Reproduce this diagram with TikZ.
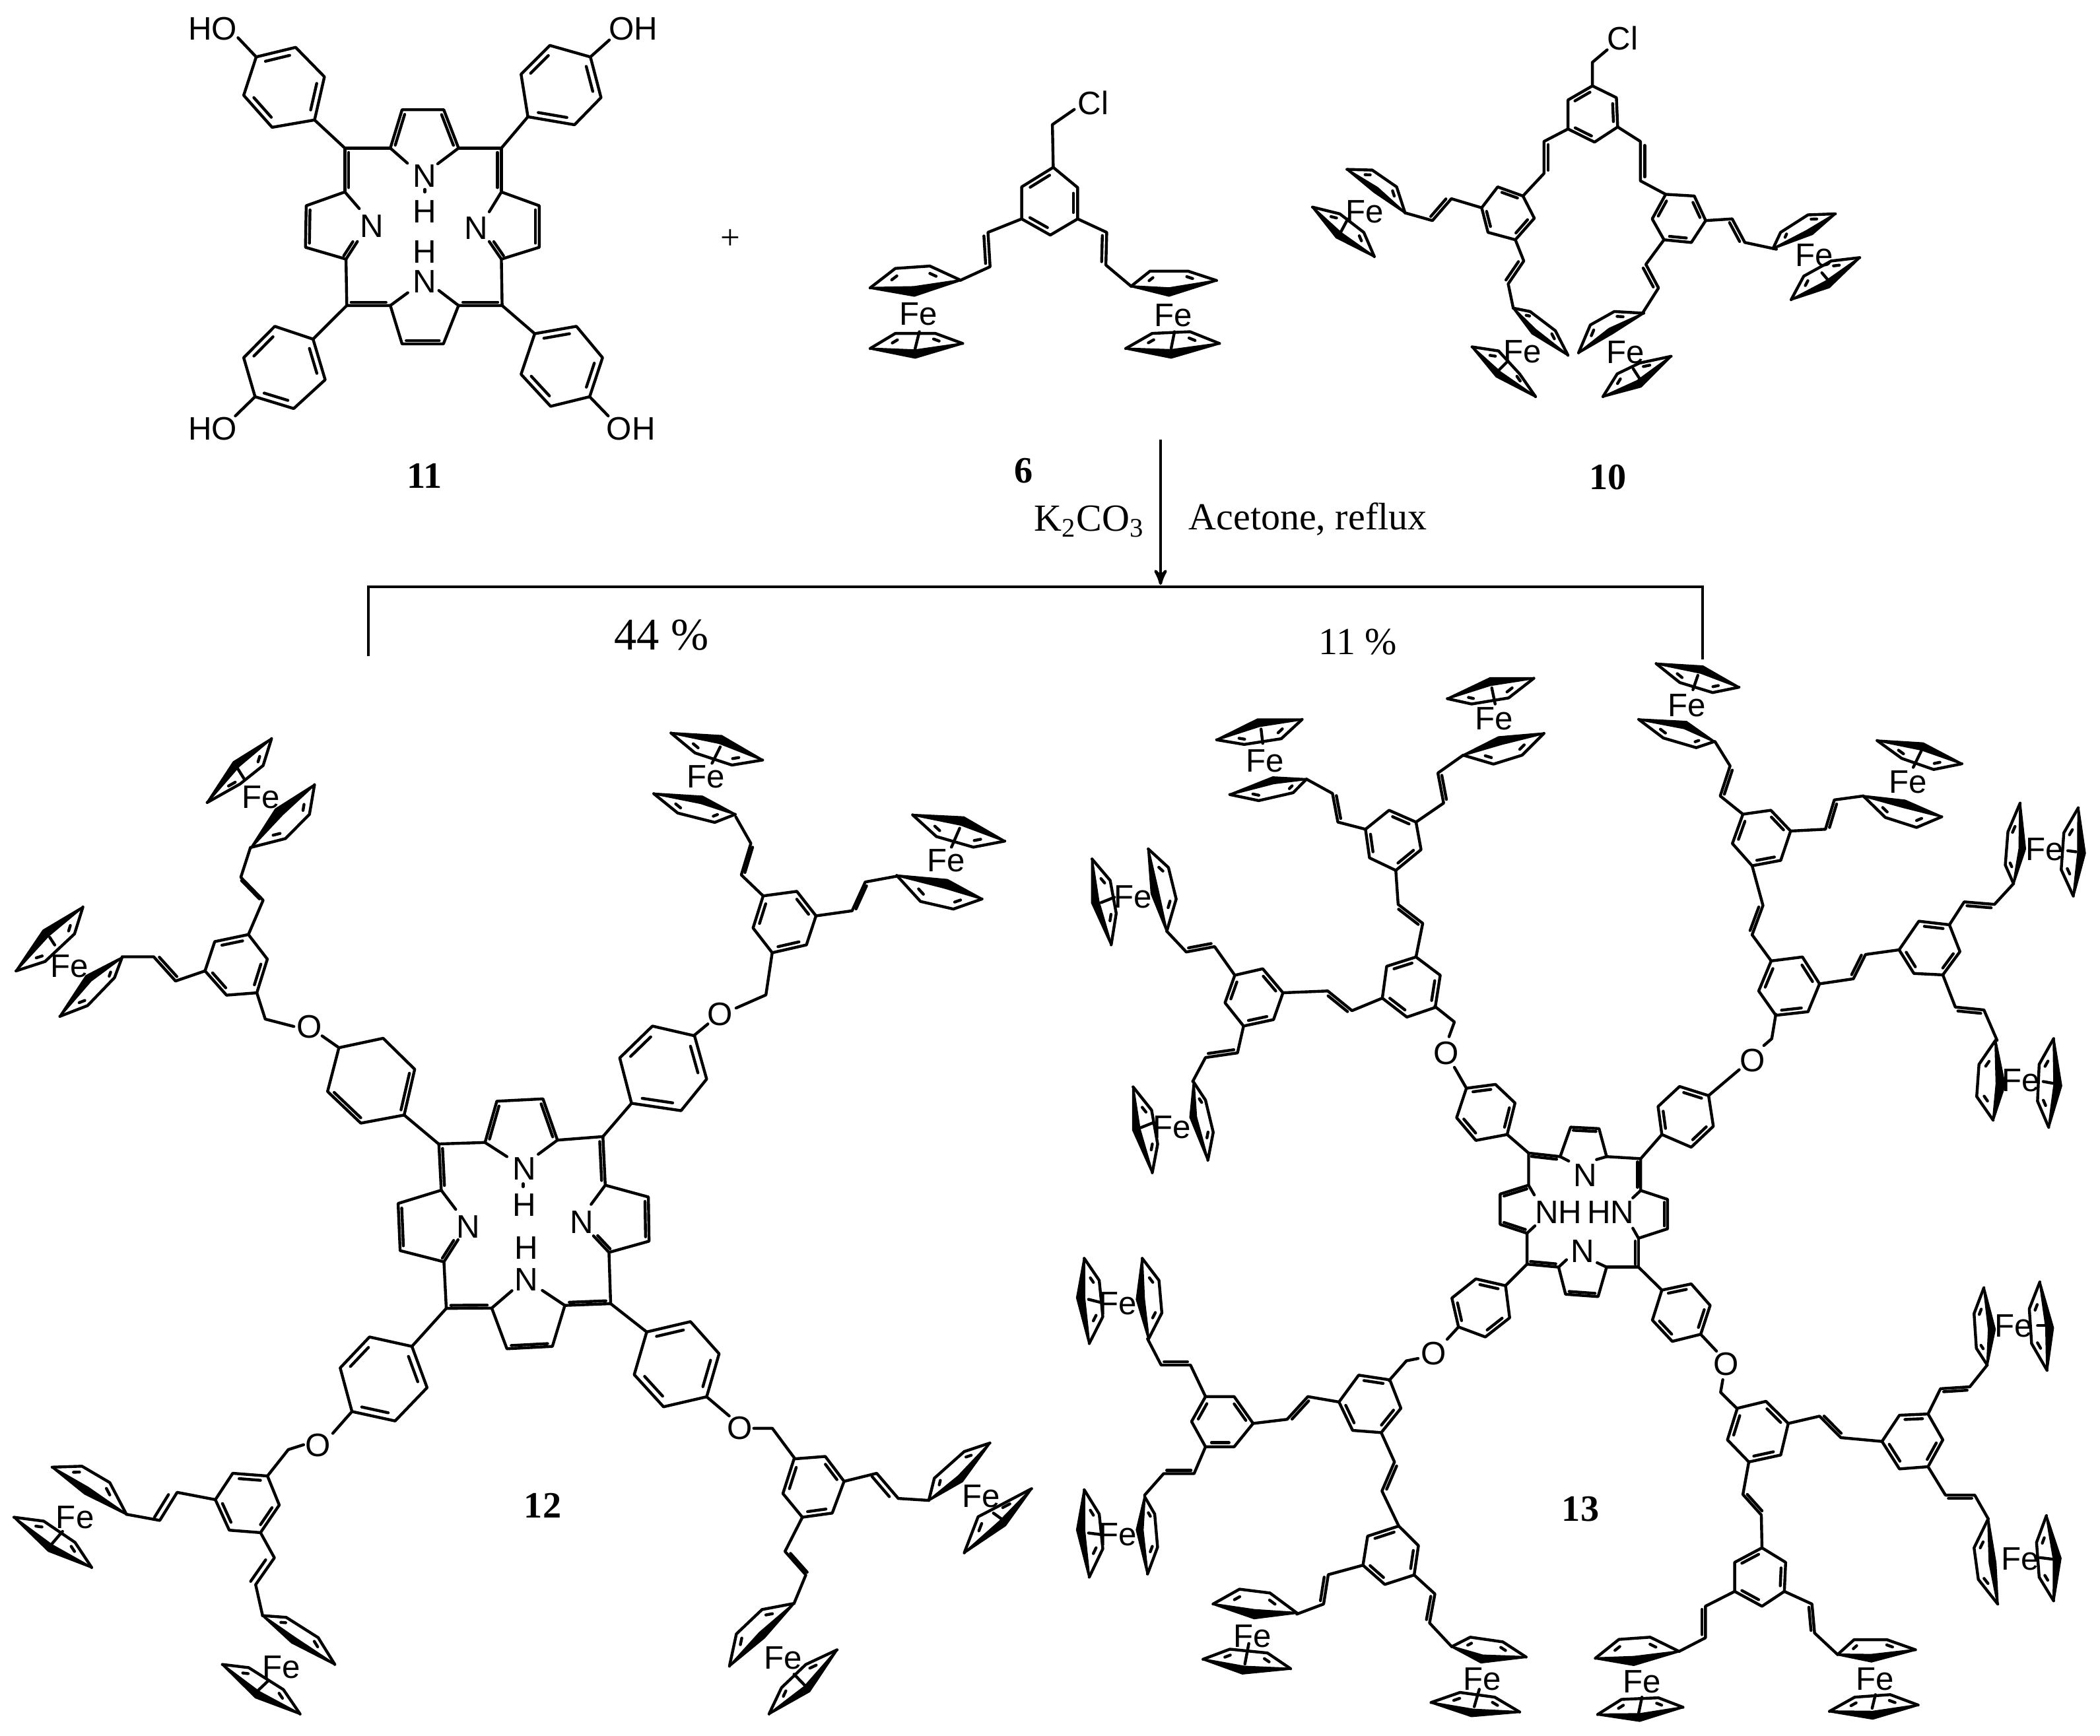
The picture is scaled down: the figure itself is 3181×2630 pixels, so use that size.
\documentclass[tikz,border=0pt]{standalone}
\usepackage{fontspec}
\setmainfont{Liberation Serif}
\newfontfamily\chemfont{Liberation Sans}
\usetikzlibrary{calc,arrows}

\newcounter{atomno}
\tikzset{
  bond/.style={line width=1.25pt,line cap=round,line join=round},
  atom/.style={font=\chemfont\fontsize{14}{14}\selectfont,inner sep=0pt,text height=10pt,text depth=0pt},
  cmpd/.style={font=\bfseries\fontsize{16}{16}\selectfont,inner sep=0pt},
  cond/.style={font=\fontsize{16.5}{17}\selectfont,inner sep=0pt},
  zone/.style n args={4}{shift={(#1,#2)},xscale=#3/1568,yscale=#4/1568}
}
\newcommand{\atomat}[2]{\stepcounter{atomno}\node[atom] (atom\theatomno) at (#1) {#2};}
% inner line of a double bond, #3 = 1 on the left of #1->#2, -1 on the right
\newcommand{\dbl}[3]{\draw[bond] ($(#1)!.1!(#2)!#3*2.9pt!90:(#2)$) -- ($(#2)!.1!(#1)!#3*2.9pt!-90:(#1)$);}
\newcommand{\vinyl}[5]{\draw[bond] (#1) -- (#2) -- (#3) -- (#4); \dbl{#2}{#3}{#5}}
% benzene ring, double bonds on 1-2, 3-4, 5-6
\def\benz(#1)(#2)(#3)(#4)(#5)(#6){
  \coordinate (rc) at ($(#1)!.5!(#4)$);
  \draw[bond] (#1) -- (#2) -- (#3) -- (#4) -- (#5) -- (#6) -- cycle;
  \draw[bond] ($($(#1)!.13!(#2)$)!.17!(rc)$) -- ($($(#2)!.13!(#1)$)!.17!(rc)$);
  \draw[bond] ($($(#3)!.13!(#4)$)!.17!(rc)$) -- ($($(#4)!.13!(#3)$)!.17!(rc)$);
  \draw[bond] ($($(#5)!.13!(#6)$)!.17!(rc)$) -- ($($(#6)!.13!(#5)$)!.17!(rc)$);
}
% one Cp ring: tip, back, back, tip, front
\def\cp(#1)(#2)(#3)(#4)(#5){
  \coordinate (cm) at ($(#2)!.5!(#3)$);
  \coordinate (cc) at ($(#5)!.5!(cm)$);
  \draw[bond] (#1) -- (#2) -- (#3) -- (#4);
  \draw[bond] ($($(#1)!.45!(#2)$)!.32!(cc)$) -- ($($(#1)!.75!(#2)$)!.32!(cc)$);
  \draw[bond] ($($(#3)!.25!(#4)$)!.32!(cc)$) -- ($($(#3)!.55!(#4)$)!.32!(cc)$);
  \filldraw[line width=.9pt,line join=miter,miter limit=4] (#1) -- (#5) -- (#4) -- ($(#5)!.3!(cm)$) -- cycle;
}

\begin{document}
\begin{tikzpicture}[x=.01cm,y=-.01cm]
\useasboundingbox (0,0) rectangle (3181,2630);

% reaction arrow and bracket
\coordinate (arrowtop) at (1758,666);
\coordinate (arrowend) at (1758,886);
\coordinate (brleft) at (558,994);
\coordinate (brcornerl) at (558,889);
\coordinate (brcornerr) at (2579,889);
\coordinate (brright) at (2579,999);
\draw[->,>=stealth',line width=1.25pt] (arrowtop) -- (arrowend);
\draw[line width=1pt] (brleft) -- (brcornerl) -- (brcornerr) -- (brright);
\node[cond] (base) at (1650,790) {K\textsubscript{2}CO\textsubscript{3}};
\node[cond] (solvent) at (1981,787) {Acetone, reflux};
\node[cond,font=\fontsize{19.5}{20}\selectfont] (yieldb) at (1002,962) {44 \%};
\node[cond] (yieldc) at (2057,973) {11 \%};
\node[cmpd] (lab12) at (822,2281) {12};
\node[cmpd] (lab13) at (2394,2286) {13};

% porphyrin 11
\begin{scope}[zone={240}{0}{900}{760}]
\benz(258,178)(362,148)(438,240)(412,375)(300,398)(225,298)
\benz(1140,178)(1168,305)(1098,390)(975,365)(957,232)(1033,142)
\benz(408,1060)(440,1187)(357,1277)(255,1240)(225,1118)(307,1020)
\benz(993,1043)(1103,1020)(1172,1118)(1138,1240)(1035,1270)(957,1170)
\draw[bond] (258,178) -- (210,118);
\draw[bond] (412,375) -- (492,463);
\draw[bond] (1140,178) -- (1190,125);
\draw[bond] (975,365) -- (905,463);
\draw[bond] (497,955) -- (408,1060);
\draw[bond] (255,1240) -- (203,1300);
\draw[bond] (907,955) -- (993,1043);
\draw[bond] (1138,1240) -- (1187,1300);
\atomat{143,88}{HO}
\atomat{1253,88}{OH}
\atomat{143,1338}{HO}
\atomat{1247,1338}{OH}
\draw[bond] (657,510) -- (612,463) -- (643,343) -- (753,343) -- (792,463) -- (737,512);
\dbl{612,463}{643,343}{-1} \dbl{753,343}{792,463}{-1}
\draw[bond] (492,600) -- (492,463) -- (612,463);
\draw[bond] (792,463) -- (905,463) -- (905,600);
\dbl{492,463}{492,600}{1} \dbl{905,463}{905,600}{-1}
\draw[bond] (530,652) -- (492,600) -- (390,643) -- (388,773) -- (495,810) -- (525,755);
\dbl{390,643}{388,773}{1} \dbl{495,810}{525,755}{1}
\draw[bond] (873,662) -- (905,600) -- (1005,643) -- (1005,773) -- (905,810) -- (873,755);
\dbl{1005,643}{1005,773}{-1} \dbl{905,810}{873,755}{-1}
\draw[bond] (495,810) -- (497,955) -- (612,955);
\draw[bond] (905,810) -- (907,955) -- (792,955);
\draw[bond] (658,915) -- (612,955) -- (643,1075) -- (752,1075) -- (792,955) -- (740,908);
\dbl{497,955}{612,955}{1} \dbl{792,955}{907,955}{1} \dbl{643,1075}{752,1075}{1}
\atomat{703,548}{N}
\atomat{703,660}{H}
\atomat{703,786}{H}
\atomat{703,878}{N}
\atomat{563,705}{N}
\atomat{838,712}{N}
\draw[bond] (703,592) -- (703,600);
\node[cmpd] (lab11) at (703,1487) {11};
\node[cond,font=\fontsize{15}{15}\selectfont] (plus) at (1510,748) {+};
\end{scope}

% chloride 6
\begin{scope}[zone={1200}{0}{1000}{800}]
\atomat{715,305}{Cl}
\draw[bond] (670,325) -- (618,370) -- (620,497);
\benz(620,497)(545,555)(545,650)(613,698)(678,650)(678,557)
\vinyl{545,650}{465,690}{470,792}{400,832}{-1}
\vinyl{678,650}{747,690}{745,787}{805,850}{-1}
\cp(185,855)(245,797)(327,790)(400,832)(290,878)
\cp(185,1035)(245,990)(340,990)(405,1020)(292,1062)
\draw[bond] (292,1035) -- (302,985);
\atomat{300,930}{Fe}
\cp(1008,833)(940,805)(850,805)(805,850)(895,878)
\cp(792,1035)(855,990)(945,985)(1015,1020)(900,1062)
\draw[bond] (900,1035) -- (908,985);
\atomat{905,935}{Fe}
\node[cmpd] (lab6) at (550,1397) {6};
\end{scope}

% chloride 10
\begin{scope}[zone={1900}{0}{1000}{800}]
\atomat{875,113}{Cl}
\draw[bond] (838,148) -- (803,185) -- (803,255);
\benz(803,255)(745,297)(745,383)(808,422)(863,377)(860,290)
\vinyl{745,383}{688,420}{688,515}{638,582}{1}
\vinyl{863,377}{917,420}{917,537}{977,577}{1}
\benz(578,555)(638,582)(665,648)(620,712)(555,690)(540,617)
\vinyl{540,617}{468,590}{423,655}{358,632}{-1}
\vinyl{620,712}{640,775}{603,843}{615,915}{-1}
\benz(1045,582)(1072,655)(1038,720)(973,712)(945,650)(977,577)
\vinyl{1072,655}{1135,650}{1165,720}{1240,740}{-1}
\vinyl{973,712}{930,785}{960,855}{922,930}{-1}
\cp(220,503)(280,505)(338,555)(358,632)(285,570)
\cp(138,615)(203,635)(260,690)(285,762)(195,705)
\draw[bond] (205,690) -- (222,650);
\atomat{262,627}{Fe}
\cp(615,915)(655,925)(715,982)(745,1055)(660,990)
\cp(517,1030)(580,1042)(630,1110)(668,1178)(575,1118)
\draw[bond] (580,1100) -- (600,1075);
\atomat{637,1042}{Fe}
\cp(925,930)(855,925)(798,965)(770,1048)(850,990)
\cp(990,1058)(915,1078)(862,1110)(828,1178)(918,1148)
\draw[bond] (918,1130) -- (900,1095);
\atomat{882,1045}{Fe}
\cp(1232,738)(1250,690)(1315,638)(1380,635)(1325,695)
\cp(1275,890)(1305,820)(1370,775)(1438,765)(1365,853)
\draw[bond] (1365,835) -- (1348,810);
\atomat{1330,757}{Fe}
\node[cmpd] (lab10) at (840,1417) {10};
\end{scope}

% 12, upper left arm
\begin{scope}[zone={0}{1050}{1000}{800}]
\cp(645,135)(625,215)(570,270)(492,325)(555,205)
\draw[bond] (580,255) -- (565,225);
\cp(747,272)(735,360)(678,432)(597,458)(655,345)
\atomat{620,307}{Fe}
\draw[bond] (590,717) -- (625,615) -- (572,547) -- (595,458);
\dbl{625,615}{572,547}{.45}
\benz(510,738)(590,717)(635,790)(610,890)(538,897)(487,825)
\vinyl{487,825}{417,855}{365,783}{290,783}{-1}
\cp(290,785)(272,845)(208,928)(142,960)(205,840)
\cp(197,635)(177,715)(107,797)(38,825)(103,705)
\draw[bond] (130,748) -- (118,725);
\atomat{165,810}{Fe}
\draw[bond] (610,890) -- (630,968) -- (698,990);
\atomat{735,990}{O}
\draw[bond] (765,1018) -- (805,1053);
\draw[bond] (805,1053) -- (910,1025) -- (985,1117) -- (960,1253) -- (857,1277) -- (778,1183) -- cycle;
\dbl{985,1117}{960,1253}{-1} \dbl{857,1277}{778,1183}{-1}
\draw[bond] (960,1253) -- (1043,1340);
\end{scope}

% 12, porphyrin core
\begin{scope}[zone={500}{1550}{800}{700}]
\draw[bond] (525,453) -- (460,405) -- (495,265) -- (632,257) -- (675,397) -- (618,445);
\dbl{460,405}{495,265}{-1} \dbl{632,257}{675,397}{-1}
\draw[bond] (330,567) -- (323,410) -- (460,405);
\draw[bond] (675,397) -- (810,385) -- (817,550);
\dbl{323,410}{330,567}{1} \dbl{810,385}{817,550}{-1}
\draw[bond] (373,632) -- (330,567) -- (202,612) -- (208,772) -- (338,810) -- (380,735);
\dbl{202,612}{208,772}{1} \dbl{338,810}{380,735}{1}
\draw[bond] (775,615) -- (817,550) -- (945,590) -- (947,740) -- (828,778) -- (782,722);
\dbl{945,590}{947,740}{-1} \dbl{828,778}{782,722}{-1}
\draw[bond] (338,810) -- (345,968) -- (480,967);
\draw[bond] (828,778) -- (833,952) -- (697,958);
\draw[bond] (540,908) -- (480,967) -- (525,1105) -- (660,1097) -- (697,958) -- (630,907);
\dbl{345,968}{480,967}{1} \dbl{697,958}{833,952}{1} \dbl{525,1105}{660,1097}{1}
\atomat{577,492}{N}
\atomat{577,615}{H}
\atomat{582,762}{H}
\atomat{582,870}{N}
\atomat{410,690}{N}
\atomat{748,675}{N}
\draw[bond] (573,545) -- (573,555);
\draw[bond] (345,968) -- (243,1097);
\benz(243,1097)(288,1237)(193,1350)(65,1318)(30,1170)(117,1065)
\draw[bond] (65,1318) -- (8,1392);
\draw[bond] (833,952) -- (940,1048);
\benz(940,1048)(1070,1013)(1155,1122)(1118,1268)(990,1302)(903,1193)
\draw[bond] (1118,1268) -- (1185,1333);
\atomat{1217,1373}{O}
\draw[bond] (1258,1375) -- (1313,1375) -- (1380,1478);
\draw[bond] (810,385) -- (895,272);
\benz(895,272)(1042,297)(1118,190)(1082,43)(957,10)(860,118)
\end{scope}

% 12, upper right arm
\begin{scope}[zone={950}{1050}{650}{600}]
\draw[bond] (245,1355) -- (295,1310);
\atomat{340,1270}{O}
\draw[bond] (398,1247) -- (507,1195) -- (530,1028);
\benz(530,1028)(655,997)(690,882)(620,785)(497,803)(460,930)
\vinyl{497,803}{417,720}{452,595}{397,490}{-1}
\vinyl{690,882}{822,862}{870,748}{985,725}{-1}
\cp(97,398)(185,475)(320,512)(395,480)(275,410)
\cp(160,158)(248,237)(383,285)(495,265)(345,170)
\draw[bond] (340,213) -- (310,278);
\atomat{287,330}{Fe}
\cp(985,722)(1072,825)(1192,855)(1297,815)(1170,740)
\cp(1043,482)(1130,568)(1265,610)(1380,586)(1230,492)
\draw[bond] (1215,535) -- (1185,610);
\atomat{1165,660}{Fe}
\end{scope}

% 12, two lower arms
\begin{scope}[zone={0}{2050}{1650}{580}]
\atomat{458,375}{O}
\draw[bond] (437,375) -- (415,395) -- (385,503);
\benz(385,503)(335,492)(310,600)(330,725)(375,735)(402,622)
\vinyl{310,600}{255,570}{230,685}{182,660}{-1}
\vinyl{375,735}{395,838}{368,948}{378,1075}{-1}
\cp(75,467)(118,463)(158,530)(182,660)(122,575)
\cp(20,672)(63,688)(108,775)(132,878)(70,810)
\draw[bond] (72,790) -- (90,730);
\atomat{108,670}{Fe}
\cp(378,1075)(412,1082)(458,1165)(482,1275)(420,1185)
\cp(320,1275)(358,1288)(408,1378)(432,1478)(368,1410)
\draw[bond] (372,1380) -- (385,1345);
\atomat{405,1283}{Fe}
\benz(1188,423)(1215,525)(1198,655)(1155,672)(1127,575)(1143,433)
\vinyl{1215,525}{1262,492}{1293,595}{1337,603}{-1}
\draw[bond] (1155,672) -- (1130,812) -- (1160,908) -- (1143,1025);
\dbl{1130,812}{1160,908}{.5}
\cp(1337,603)(1345,512)(1388,403)(1425,368)(1385,525)
\cp(1388,818)(1408,670)(1435,630)(1485,555)(1447,705)
\draw[bond] (1447,690) -- (1430,655);
\atomat{1412,583}{Fe}
\cp(1143,1025)(1097,1050)(1060,1150)(1050,1282)(1100,1165)
\cp(1205,1215)(1160,1275)(1125,1370)(1107,1478)(1165,1385)
\draw[bond] (1160,1365) -- (1143,1315);
\atomat{1127,1245}{Fe}
\end{scope}

% 13, porphyrin core
\begin{scope}[zone={2050}{1500}{750}{700}]
\draw[bond] (555,662) -- (555,553) -- (655,565);
\dbl{555,553}{655,565}{-1}
\draw[bond] (682,580) -- (655,565) -- (688,465) -- (778,470) -- (802,565) -- (770,575);
\dbl{688,465}{778,470}{-1}
\draw[bond] (802,565) -- (910,572) -- (910,680);
\dbl{910,572}{910,680}{-1}
\draw[bond] (573,695) -- (555,662) -- (465,692) -- (465,795) -- (550,825) -- (575,800);
\dbl{465,692}{555,662}{-1} \dbl{465,795}{550,825}{1}
\draw[bond] (885,705) -- (910,680) -- (995,710) -- (995,810) -- (903,842) -- (885,808);
\dbl{995,710}{995,810}{-1}
\draw[bond] (550,825) -- (550,930) -- (650,940);
\draw[bond] (903,842) -- (903,940) -- (802,940);
\dbl{903,842}{903,940}{-1} \dbl{550,930}{650,940}{1}
\draw[bond] (675,915) -- (650,940) -- (672,1032) -- (775,1040) -- (802,940) -- (772,925);
\dbl{672,1032}{775,1040}{1}
\atomat{735,628}{N}
\atomat{727,885}{N}
\atomat{650,752}{NH}
\atomat{815,752}{HN}
\draw[bond] (487,490) -- (555,553);
\benz(358,333)(450,320)(512,383)(487,490)(388,510)(327,433)
\draw[bond] (358,333) -- (320,262);
\atomat{293,213}{O}
\draw[bond] (303,158) -- (320,108) -- (258,55);
\draw[bond] (910,572) -- (977,490);
\benz(965,395)(977,490)(1070,533)(1140,462)(1125,358)(1033,327)
\draw[bond] (1125,358) -- (1222,270);
\atomat{1265,238}{O}
\draw[bond] (1300,188) -- (1325,165) -- (1338,82);
\draw[bond] (550,930) -- (482,1003);
\benz(388,980)(482,1003)(495,1112)(418,1177)(333,1143)(312,1045)
\draw[bond] (333,1143) -- (297,1185);
\atomat{255,1232}{O}
\draw[bond] (205,1250) -- (168,1258) -- (113,1325);
\draw[bond] (903,940) -- (977,1018);
\benz(977,1018)(1070,997)(1130,1070)(1100,1168)(1010,1192)(947,1120)
\draw[bond] (1100,1168) -- (1150,1225);
\atomat{1180,1267}{O}
\draw[bond] (1170,1322) -- (1163,1365) -- (1215,1420);
\end{scope}

% 13, upper left arm
\begin{scope}[zone={1650}{950}{800}{850}]
\cp(417,468)(503,485)(605,463)(645,425)(545,420)
\cp(378,315)(460,328)(570,312)(632,258)(500,258)
\draw[bond] (510,285) -- (515,325);
\atomat{522,372}{Fe}
\cp(1110,358)(1200,383)(1285,358)(1350,297)(1215,308)
\cp(1063,200)(1135,215)(1245,198)(1320,143)(1190,143)
\draw[bond] (1195,170) -- (1205,215);
\atomat{1202,255}{Fe}
\vinyl{820,565}{738,545}{722,465}{645,425}{-1}
\benz(890,512)(970,545)(985,622)(910,680)(832,645)(820,565)
\vinyl{970,545}{1052,492}{1035,408}{1110,358}{-1}
\vinyl{910,680}{917,775}{990,828}{970,922}{-1}
\benz(883,948)(970,922)(1042,973)(1027,1063)(943,1090)(870,1037)
\vinyl{870,1037}{780,1072}{708,1017}{575,1022}{1}
\benz(515,955)(575,1022)(547,1097)(458,1115)(403,1050)(432,973)
\vinyl{432,973}{372,893}{288,908}{230,850}{-1}
\vinyl{458,1115}{440,1190}{345,1203}{307,1270}{-1}
\cp(175,620)(235,672)(258,760)(230,850)(185,745)
\cp(8,648)(62,708)(80,800)(65,888)(8,770)
\draw[bond] (35,770) -- (75,755);
\atomat{130,752}{Fe}
\cp(310,1272)(345,1322)(368,1412)(352,1490)(300,1370)
\cp(130,1285)(185,1350)(203,1445)(187,1525)(130,1405)
\draw[bond] (150,1400) -- (190,1385);
\atomat{245,1397}{Fe}
\end{scope}

% 13, upper right arm
\begin{scope}[zone={2400}{950}{781}{850}]
\cp(218,102)(290,155)(390,183)(470,168)(360,110)
\draw[bond] (345,135) -- (330,175);
\atomat{312,217}{Fe}
\cp(165,258)(240,310)(340,337)(395,320)(310,265)
\vinyl{482,523}{413,472}{443,388}{397,320}{-1}
\benz(450,605)(482,523)(567,512)(627,570)(597,652)(510,667)
\vinyl{627,570}{733,565}{760,483}{848,472}{-1}
\cp(848,472)(915,532)(1010,560)(1087,530)(975,485)
\cp(890,317)(965,367)(1062,398)(1148,382)(1030,325)
\draw[bond] (1025,345) -- (1000,392);
\atomat{985,432}{Fe}
\vinyl{510,667}{543,778}{510,860}{568,933}{-1}
\benz(530,1017)(568,933)(663,922)(715,997)(680,1075)(582,1085)
\vinyl{715,997}{818,983}{855,915}{957,902}{1}
\benz(1002,968)(957,902)(1017,822)(1110,832)(1142,907)(1090,972)
\vinyl{1110,832}{1155,768}{1247,775}{1305,717}{-1}
\vinyl{1090,972}{1128,1062}{1215,1070}{1255,1155}{-1}
\cp(1325,492)(1288,572)(1280,665)(1305,717)(1340,620)
\cp(1502,505)(1458,575)(1450,678)(1487,752)(1522,632)
\draw[bond] (1470,625) -- (1495,628);
\atomat{1400,620}{Fe}
\cp(1250,1155)(1200,1222)(1193,1312)(1243,1378)(1278,1280)
\cp(1427,1150)(1383,1222)(1378,1325)(1412,1398)(1450,1282)
\draw[bond] (1395,1270) -- (1425,1275);
\atomat{1327,1265}{Fe}
\end{scope}

% 13, lower left arm
\begin{scope}[zone={1600}{1880}{850}{750}]
\cp(240,55)(287,125)(295,228)(258,310)(225,185)
\cp(78,55)(120,125)(130,240)(92,325)(58,180)
\draw[bond] (90,185) -- (125,195);
\atomat{172,197}{Fe}
\vinyl{417,493}{375,393}{293,393}{255,310}{-1}
\benz(378,572)(417,493)(497,493)(550,578)(497,652)(417,652)
\vinyl{550,578}{645,565}{703,493}{790,510}{-1}
\vinyl{417,652}{385,737}{300,737}{247,805}{-1}
\cp(247,810)(275,865)(283,970)(255,1055)(225,915)
\cp(78,788)(120,865)(130,975)(92,1065)(58,915)
\draw[bond] (90,925) -- (125,930);
\atomat{172,928}{Fe}
\benz(845,425)(932,440)(963,530)(908,607)(828,600)(790,510)
\vinyl{908,607}{945,700}{910,792}{957,903}{1}
\benz(870,935)(957,903)(1012,965)(1000,1058)(918,1088)(857,1027)
\vinyl{857,1027}{760,1057}{747,1150}{672,1182}{-1}
\vinyl{1000,1058}{1058,1118}{1043,1210}{1105,1285}{-1}
\cp(438,1150)(512,1103)(597,1115)(672,1178)(553,1195)
\cp(410,1325)(485,1293)(590,1305)(655,1355)(520,1370)
\draw[bond] (527,1340) -- (538,1275);
\atomat{548,1250}{Fe}
\cp(1105,1285)(1157,1255)(1248,1270)(1313,1318)(1187,1335)
\cp(1047,1462)(1128,1430)(1225,1445)(1295,1492)(1160,1505)
\draw[bond] (1168,1475) -- (1182,1420);
\atomat{1190,1385}{Fe}
\end{scope}

% 13, lower right arm
\begin{scope}[zone={2400}{1880}{781}{750}]
\benz(435,630)(465,530)(552,508)(620,578)(597,678)(500,700)
\vinyl{620,578}{715,555}{780,623}{905,635}{1}
\benz(958,552)(1045,548)(1090,630)(1045,715)(958,722)(905,635)
\vinyl{1045,548}{1083,468}{1172,462}{1225,393}{-1}
\vinyl{1045,715}{1098,805}{1187,805}{1228,880}{-1}
\cp(1215,148)(1185,230)(1192,340)(1225,393)(1248,280)
\cp(1385,130)(1353,215)(1360,325)(1407,410)(1425,275)
\draw[bond] (1378,268) -- (1415,268);
\atomat{1305,268}{Fe}
\cp(1228,880)(1185,972)(1198,1072)(1257,1150)(1250,1020)
\cp(1405,870)(1375,955)(1383,1065)(1427,1140)(1448,1005)
\draw[bond] (1385,1003) -- (1440,1010);
\atomat{1325,1005}{Fe}
\vinyl{500,700}{482,803}{538,868}{540,972}{1}
\benz(457,1018)(540,972)(612,1018)(608,1110)(540,1157)(457,1110)
\vinyl{457,1110}{368,1157}{368,1257}{288,1300}{-1}
\vinyl{608,1110}{692,1150}{700,1242}{770,1310}{-1}
\cp(33,1322)(105,1262)(200,1255)(288,1300)(150,1343)
\cp(40,1500)(113,1452)(225,1447)(300,1477)(168,1520)
\draw[bond] (165,1495) -- (175,1445);
\atomat{175,1395}{Fe}
\cp(770,1310)(820,1263)(920,1263)(1007,1295)(873,1332)
\cp(745,1490)(822,1445)(930,1437)(1015,1470)(877,1513)
\draw[bond] (875,1480) -- (885,1437);
\atomat{883,1385}{Fe}
\end{scope}
\end{tikzpicture}
\end{document}
